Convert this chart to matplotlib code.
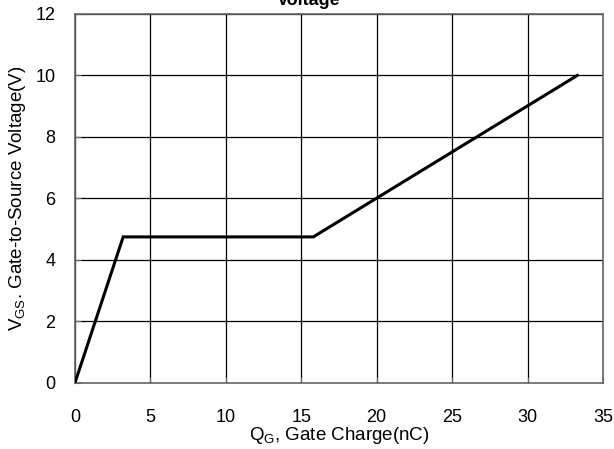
import numpy as np
import matplotlib
matplotlib.use('Agg')
import matplotlib.pyplot as plt

plt.rcParams['font.family'] = ['Liberation Sans', 'DejaVu Sans']
plt.rcParams['mathtext.fontset'] = 'custom'
plt.rcParams['mathtext.rm'] = 'Liberation Sans'

# gate charge curve
qg = [0, 3.2, 15.8, 33.3]
vgs = [0, 4.75, 4.75, 10.0]

xticks = [0, 5, 10, 15, 20, 25, 30, 35]
yticks = [0, 2, 4, 6, 8, 10, 12]

fig = plt.figure(figsize=(6.14, 4.49), dpi=100)
ax = fig.add_axes([0.122, 0.147, 0.860, 0.822])

ax.plot(qg, vgs, color='black', lw=2.2, solid_joinstyle='miter', zorder=3)

ax.set_xlim(0, 35)
ax.set_ylim(0, 12)
ax.set_xticks(xticks)
ax.set_yticks(yticks)
ax.grid(True, color='black', lw=0.9)
ax.tick_params(direction='in', length=4, color='#666666', labelsize=13)
ax.tick_params(axis='x', pad=19)
ax.tick_params(axis='y', pad=14)
for s in ax.spines.values():
    s.set_color('#666666')
    s.set_linewidth(1.2)

ax.set_xlabel(r'Q$_{\mathrm{G}}$, Gate Charge(nC)', fontsize=13.5, labelpad=-1)
ax.set_ylabel(r'V$_{\mathrm{GS}}$. Gate-to-Source Voltage(V)', fontsize=13.5, labelpad=5)

fig.text(0.502, 0.979, 'Gate Charge vs. Gate-to-Source\nVoltage', ha='center', va='bottom',
         fontsize=13, fontweight='bold', linespacing=1.0)

fig.savefig('out.png', dpi=100)
